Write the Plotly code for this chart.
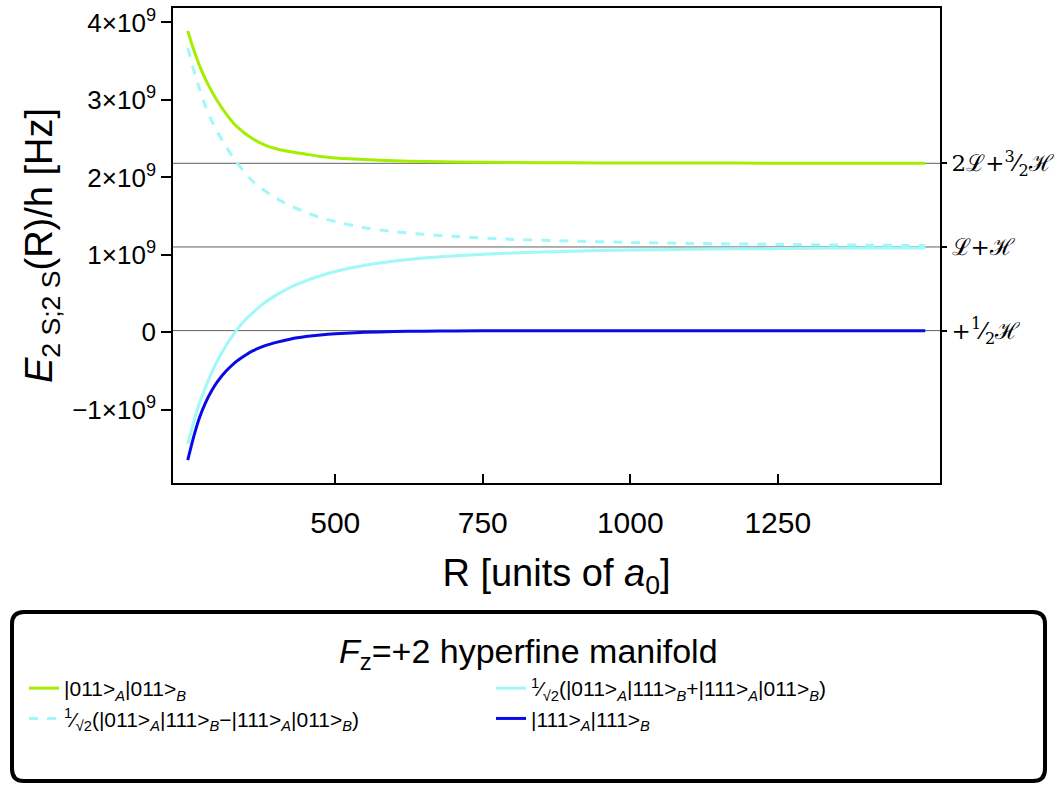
import plotly.graph_objects as go

# ---- data ----
R = [250, 260, 270, 280, 290, 300, 315, 330, 345, 360, 380, 400, 425, 450, 475, 500,
     550, 600, 650, 700, 800, 900, 1000, 1100, 1250, 1400, 1500]

E_011_011 = [3.89, 3.65, 3.44, 3.27, 3.12, 2.99, 2.82, 2.68, 2.58, 2.50, 2.42, 2.37, 2.33, 2.30, 2.27, 2.25,
             2.23, 2.215, 2.205, 2.198, 2.192, 2.188, 2.186, 2.185, 2.184, 2.183, 2.182]
E_sym = [-1.44, -1.16, -0.91, -0.71, -0.53, -0.37, -0.17, 0.00, 0.14, 0.25, 0.38, 0.48, 0.585, 0.665, 0.73, 0.785,
         0.865, 0.92, 0.96, 0.985, 1.025, 1.048, 1.062, 1.072, 1.082, 1.088, 1.09]
E_anti = [3.67, 3.39, 3.14, 2.92, 2.74, 2.59, 2.40, 2.22, 2.08, 1.95, 1.83, 1.73, 1.63, 1.55, 1.48, 1.43,
          1.35, 1.30, 1.265, 1.24, 1.20, 1.178, 1.16, 1.148, 1.135, 1.125, 1.12]
E_111_111 = [-1.65, -1.35, -1.10, -0.91, -0.76, -0.64, -0.50, -0.39, -0.31, -0.24, -0.175, -0.13, -0.085, -0.055, -0.033, -0.018,
             0.0, 0.01, 0.015, 0.018, 0.020, 0.021, 0.022, 0.022, 0.022, 0.022, 0.022]

asymptotes = [2.1822, 1.1022, 0.0222]  # units of 1e9 Hz
asym_labels = ["2ℒ+<sup>3</sup>⁄<sub>2</sub>ℋ", "ℒ+ℋ", "+<sup>1</sup>⁄<sub>2</sub>ℋ"]

ytick_vals = [-1, 0, 1, 2, 3, 4]
ytick_text = ["−1×10<sup>9</sup>", "0", "1×10<sup>9</sup>", "2×10<sup>9</sup>", "3×10<sup>9</sup>", "4×10<sup>9</sup>"]
xtick_vals = [500, 750, 1000, 1250]

names = [
    "|011><sub><i>A</i></sub>|011><sub><i>B</i></sub>",
    "<sup>1</sup>⁄<sub>√2</sub>(|011><sub><i>A</i></sub>|111><sub><i>B</i></sub>+|111><sub><i>A</i></sub>|011><sub><i>B</i></sub>)",
    "<sup>1</sup>⁄<sub>√2</sub>(|011><sub><i>A</i></sub>|111><sub><i>B</i></sub>−|111><sub><i>A</i></sub>|011><sub><i>B</i></sub>)",
    "|111><sub><i>A</i></sub>|111><sub><i>B</i></sub>",
]
legend_title = "<i>F</i><sub>z</sub>=+2 hyperfine manifold"
series = [E_011_011, E_sym, E_anti, E_111_111]
colors = ["#a4ee00", "#a0f8f8", "#a0f8f8", "#0a0ae6"]
dashes = ["solid", "solid", "dash", "solid"]

SCALE = 1e9

W, H = 1060, 786
ML, MR, MT, MB = 173, 120, 8, 303
PW, PH = W - ML - MR, H - MT - MB


def px_x(p):
    return (p - ML) / PW


def px_y(p):
    return (MT + PH - p) / PH


fig = go.Figure()

for nm, ys, c, d in zip(names, series, colors, dashes):
    fig.add_trace(go.Scatter(
        x=R, y=[v * SCALE for v in ys], mode="lines", name=nm,
        line=dict(color=c, width=3, dash=d, shape="spline", smoothing=0.7),
    ))

# horizontal asymptote reference lines
for a in asymptotes:
    fig.add_shape(type="line", xref="paper", x0=0, x1=1, yref="y", y0=a * SCALE, y1=a * SCALE,
                  line=dict(color="#606060", width=1), layer="below")

# invisible trace for right axis
fig.add_trace(go.Scatter(x=[R[0]], y=[asymptotes[0] * SCALE], yaxis="y2", mode="markers",
                         marker=dict(opacity=0), showlegend=False, hoverinfo="skip"))

yrange = [-1.945e9, 4.187e9]

fig.update_layout(
    width=W, height=H,
    margin=dict(l=ML, r=MR, t=MT, b=MB, autoexpand=False),
    paper_bgcolor="white", plot_bgcolor="white",
    font=dict(family="Liberation Sans, Arial, sans-serif", color="black"),
    xaxis=dict(
        range=[225, 1525], tickvals=xtick_vals, ticks="inside", ticklen=9, tickwidth=1.5,
        tickcolor="black", showline=True, linecolor="black", linewidth=1.5, mirror=True,
        showgrid=False, zeroline=False, tickfont=dict(size=30), automargin=False,
        ticklabelstandoff=12,
        title=dict(text="R [units of <i>a</i><sub>0</sub>]", font=dict(size=38), standoff=22),
    ),
    yaxis=dict(
        range=yrange, tickvals=[v * SCALE for v in ytick_vals], ticktext=ytick_text,
        ticks="outside", ticklen=10, tickwidth=1.5, tickcolor="black",
        showline=True, linecolor="black", linewidth=1.5, mirror=True,
        showgrid=False, zeroline=False, tickfont=dict(size=26), automargin=False,
        ticklabeloverflow="allow",
        title=dict(text="<i>E</i><sub>2 S;2 S</sub>(R)/h [Hz]", font=dict(size=38), standoff=8),
    ),
    yaxis2=dict(
        range=yrange, overlaying="y", side="right",
        tickvals=[a * SCALE for a in asymptotes], ticktext=asym_labels,
        ticks="outside", ticklen=6, tickwidth=1.5, tickcolor="black",
        showline=False, showgrid=False, zeroline=False, automargin=False,
        tickfont=dict(size=23, family="DejaVu Serif, serif"),
    ),
    showlegend=True,
    legend=dict(
        orientation="h", x=px_x(24), xanchor="left", y=px_y(668), yanchor="top",
        entrywidth=422, entrywidthmode="pixels",
        bgcolor="rgba(0,0,0,0)", borderwidth=0,
        font=dict(size=21), tracegroupgap=0,
    ),
)

# legend title
fig.add_annotation(text=legend_title, xref="paper", yref="paper", x=px_x(528), y=px_y(654),
                   xanchor="center", yanchor="middle", showarrow=False, font=dict(size=34))

# rounded legend frame
x0p, x1p = px_x(12), px_x(1045)
y0p, y1p = px_y(781), px_y(612)
rx, ry = 12 / PW, 12 / PH
path = (f"M {x0p+rx},{y1p} L {x1p-rx},{y1p} Q {x1p},{y1p} {x1p},{y1p-ry} "
        f"L {x1p},{y0p+ry} Q {x1p},{y0p} {x1p-rx},{y0p} L {x0p+rx},{y0p} "
        f"Q {x0p},{y0p} {x0p},{y0p+ry} L {x0p},{y1p-ry} Q {x0p},{y1p} {x0p+rx},{y1p} Z")
fig.add_shape(type="path", xref="paper", yref="paper", path=path,
              line=dict(color="black", width=4))

fig.write_html("out.html", config={"displayModeBar": False},
               post_script="document.body.style.margin='0';")
